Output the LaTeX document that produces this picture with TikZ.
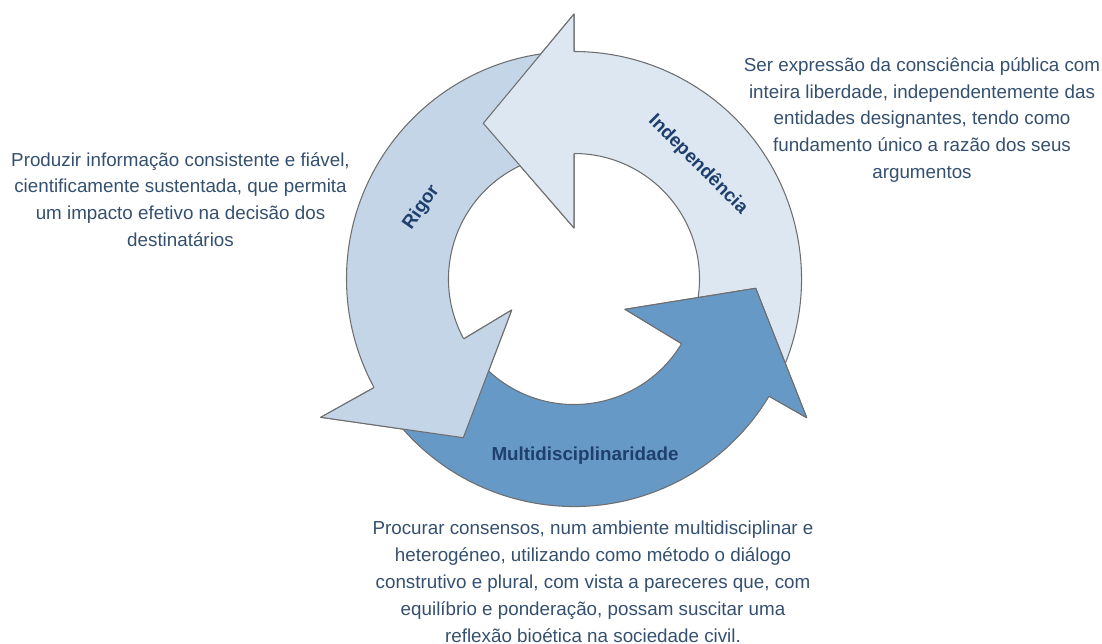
\documentclass[tikz,border=0pt]{standalone}
\usepackage{fontspec}
\setmainfont{Liberation Sans}
\definecolor{indfill}{HTML}{DDE7F2}
\definecolor{rigfill}{HTML}{C4D5E8}
\definecolor{mulfill}{HTML}{6799C7}
\definecolor{edgegray}{HTML}{6E6E6E}
\definecolor{labelblue}{HTML}{1F3F6C}
\definecolor{textblue}{HTML}{35506F}
\tikzset{
  edge/.style={draw=edgegray, line width=0.6pt, line join=round},
  cyclelabel/.style={text=labelblue, font=\fontsize{10.7}{13}\selectfont\bfseries},
  desc/.style={text=textblue, align=center, font=\fontsize{10.7}{15.3}\selectfont}
}
\begin{document}
\begin{tikzpicture}[x=0.02cm, y=-0.02cm]
\useasboundingbox (0,0) rectangle (1102,643);
\begin{scope}[shift={(574,279)}]
% arrow heads: outer wing, tip, inner wing
\coordinate (i-wo) at (0,-265);
\coordinate (i-tp) at (-90.7,-155.7);
\coordinate (i-wi) at (0,-51);
\coordinate (r-wo) at (-253.3,138.3);
\coordinate (r-tp) at (-110.7,158.7);
\coordinate (r-wi) at (-62.3,31);
\coordinate (m-wo) at (232.7,138.7);
\coordinate (m-tp) at (181.7,9.3);
\coordinate (m-wi) at (51,30.3);
% whole arrows
\path[edge, fill=indfill] (28:227.5) arc[start angle=28, end angle=-90, radius=227.5]
  -- (i-wo) -- (i-tp) -- (i-wi) -- (-90:125.5) arc[start angle=-90, end angle=28, radius=125.5] -- cycle;
\path[edge, fill=rigfill] (267:227.5) arc[start angle=267, end angle=151.5, radius=227.5]
  -- (r-wo) -- (r-tp) -- (r-wi) -- (151.5:125.5) arc[start angle=151.5, end angle=267, radius=125.5] -- cycle;
\path[edge, fill=mulfill] (149:227.5) arc[start angle=149, end angle=31, radius=227.5]
  -- (m-wo) -- (m-tp) -- (m-wi) -- (31:125.5) arc[start angle=31, end angle=149, radius=125.5] -- cycle;
% heads again, over the next tail
\foreach \col/\ang/\n in {indfill/-90/i, rigfill/151.5/r, mulfill/31/m} {
  \fill[\col] (\ang:227.5) -- (\n-wo) -- (\n-tp) -- (\n-wi) -- (\ang:125.5) -- cycle;
  \draw[edge] (\ang:227.5) -- (\n-wo) -- (\n-tp) -- (\n-wi) -- (\ang:125.5);
}
\end{scope}
\node[cyclelabel, rotate=-45] (indlab) at (698,164.5) {Independência};
\node[cyclelabel, rotate=55] (riglab) at (421.5,207.5) {Rigor};
\node[cyclelabel] (mullab) at (585,456) {Multidisciplinaridade};
\node[desc] (rigdesc) at (180.5,199.5) {Produzir informação consistente e fiável,\\ cientificamente sustentada, que permita\\ um impacto efetivo na decisão dos\\ destinatários};
\node[desc] (inddesc) at (922,120) {Ser expressão da consciência pública com\\ inteira liberdade, independentemente das\\ entidades designantes, tendo como\\ fundamento único a razão dos seus\\ argumentos};
\node[desc] (muldesc) at (593,582) {Procurar consensos, num ambiente multidisciplinar e\\ heterogéneo, utilizando como método o diálogo\\ construtivo e plural, com vista a pareceres que, com\\ equilíbrio e ponderação, possam suscitar uma\\ reflexão bioética na sociedade civil.};
\end{tikzpicture}
\end{document}
